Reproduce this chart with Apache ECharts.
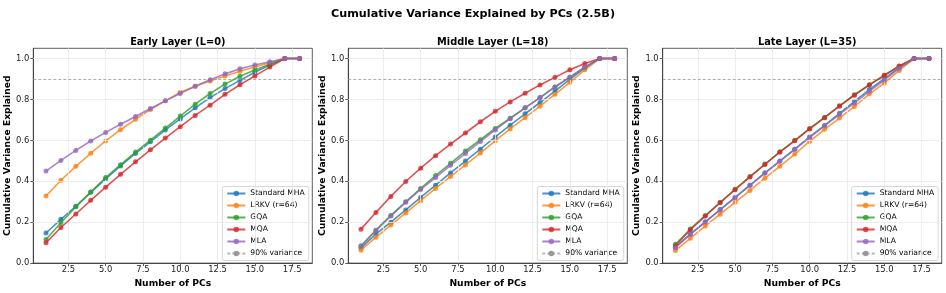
<!DOCTYPE html>
<html>
<head>
<meta charset="utf-8">
<script src="https://cdn.jsdelivr.net/npm/echarts@6/dist/echarts.min.js"></script>
<style>
html,body{margin:0;padding:0;background:#fff;}
#chart{width:946px;height:293px;}
</style>
</head>
<body>
<div id="chart"></div>
<script>
const pcs = [1,2,3,4,5,6,7,8,9,10,11,12,13,14,15,16,17,18];
const methods = ['Standard MHA','LRKV (r=64)','GQA','MQA','MLA'];
const panelTitles = ['Early Layer (L=0)','Middle Layer (L=18)','Late Layer (L=35)'];
const xTicks = [2.5,5,7.5,10,12.5,15,17.5];
const yTicks = [0,0.2,0.4,0.6,0.8,1.0];
const threshold = 0.9;

// Early layer
const earlyMHA  = [0.147,0.214,0.278,0.346,0.412,0.475,0.536,0.593,0.651,0.705,0.759,0.809,0.853,0.893,0.933,0.968,1.0,1.0];
const earlyLRKV = [0.328,0.405,0.473,0.537,0.597,0.652,0.703,0.751,0.793,0.835,0.864,0.890,0.915,0.938,0.959,0.979,1.0,1.0];
const earlyGQA  = [0.115,0.197,0.275,0.347,0.418,0.481,0.543,0.601,0.660,0.719,0.777,0.829,0.875,0.913,0.944,0.972,1.0,1.0];
const earlyMQA  = [0.099,0.174,0.240,0.307,0.371,0.434,0.495,0.554,0.611,0.667,0.722,0.772,0.825,0.872,0.915,0.958,1.0,1.0];
const earlyMLA  = [0.450,0.502,0.551,0.597,0.639,0.679,0.717,0.756,0.793,0.829,0.864,0.896,0.925,0.950,0.968,0.984,1.0,1.0];
// Middle layer
const midMHA  = [0.074,0.142,0.200,0.260,0.321,0.381,0.441,0.499,0.557,0.617,0.674,0.730,0.785,0.841,0.898,0.953,1.0,1.0];
const midLRKV = [0.063,0.126,0.186,0.245,0.305,0.365,0.423,0.480,0.538,0.598,0.656,0.711,0.767,0.825,0.884,0.945,1.0,1.0];
const midGQA  = [0.085,0.161,0.233,0.300,0.365,0.428,0.488,0.548,0.603,0.658,0.708,0.759,0.809,0.861,0.909,0.958,1.0,1.0];
const midMQA  = [0.166,0.247,0.326,0.399,0.464,0.525,0.582,0.636,0.691,0.742,0.788,0.830,0.871,0.908,0.945,0.976,1.0,1.0];
const midMLA  = [0.081,0.158,0.230,0.297,0.360,0.418,0.478,0.536,0.594,0.651,0.706,0.759,0.809,0.861,0.909,0.958,1.0,1.0];
// Late layer
const lateMHA  = [0.078,0.142,0.202,0.262,0.321,0.381,0.441,0.499,0.557,0.617,0.673,0.732,0.790,0.848,0.902,0.956,1.0,1.0];
const lateLRKV = [0.061,0.121,0.181,0.239,0.297,0.355,0.415,0.473,0.533,0.595,0.654,0.709,0.766,0.826,0.880,0.942,1.0,1.0];
const lateGQA  = [0.092,0.167,0.232,0.297,0.361,0.423,0.484,0.544,0.600,0.658,0.712,0.769,0.823,0.872,0.917,0.964,1.0,1.0];
const lateMQA  = [0.084,0.163,0.230,0.295,0.359,0.421,0.482,0.542,0.598,0.656,0.711,0.767,0.821,0.871,0.918,0.962,1.0,1.0];
const lateMLA  = [0.075,0.140,0.200,0.260,0.320,0.380,0.440,0.498,0.556,0.615,0.671,0.727,0.783,0.840,0.895,0.952,1.0,1.0];

const panels = [
  [earlyMHA, earlyLRKV, earlyGQA, earlyMQA, earlyMLA],
  [midMHA, midLRKV, midGQA, midMQA, midMLA],
  [lateMHA, lateLRKV, lateGQA, lateMQA, lateMLA]
];

const colors = ['#1f77b4','#ff7f0e','#2ca02c','#d62728','#9467bd'];
const FONT = 'DejaVu Sans';
const gridLefts = [33.3, 348.3, 662.7];
const gridTop = 48.3, gridW = 279, gridH = 216;

const option = {
  animation: false,
  backgroundColor: '#fff',
  textStyle: {fontFamily: FONT},
  title: [{
    text: 'Cumulative Variance Explained by PCs (2.5B)',
    left: 'center', top: 4,
    textStyle: {fontFamily: FONT, fontSize: 11.2, fontWeight: 'bold', color: '#000'}
  }].concat(panelTitles.map((t, i) => ({
    text: t,
    left: gridLefts[i] + gridW / 2, top: 32.5, textAlign: 'center',
    textStyle: {fontFamily: FONT, fontSize: 9.8, fontWeight: 'bold', color: '#000'}
  }))),
  grid: gridLefts.map(l => ({
    left: l, top: gridTop, width: gridW, height: gridH,
    show: true, borderColor: '#333', borderWidth: 0.8, backgroundColor: 'transparent'
  })),
  legend: gridLefts.map((l, i) => ({
    orient: 'vertical',
    left: l + gridW - 90, top: 186.5,
    data: methods.concat(['90% variance']),
    itemWidth: 18, itemHeight: 7, itemGap: 4,
    padding: [3, 4, 3, 4],
    backgroundColor: 'rgba(255,255,255,0.85)',
    borderColor: '#cccccc', borderWidth: 0.8, borderRadius: 2,
    textStyle: {fontFamily: FONT, fontSize: 7.6, color: '#000'},
    selectedMode: false
  })),
  xAxis: gridLefts.map((l, i) => ({
    type: 'value', gridIndex: i, min: 0.15, max: 18.85,
    name: 'Number of PCs', nameLocation: 'middle', nameGap: 14,
    nameTextStyle: {fontFamily: FONT, fontSize: 9.2, fontWeight: 'bold', color: '#000'},
    axisLine: {show: true, lineStyle: {color: '#333', width: 0.8}},
    axisTick: {show: true, length: 3, customValues: xTicks, lineStyle: {color: '#333', width: 0.8}},
    axisLabel: {customValues: xTicks, fontFamily: FONT, fontSize: 8.4, color: '#222', margin: 3,
      formatter: v => Number(v).toFixed(1)},
    splitLine: {show: false}
  })),
  yAxis: gridLefts.map((l, i) => ({
    type: 'value', gridIndex: i, min: 0, max: 1.05,
    name: 'Cumulative Variance Explained', nameLocation: 'middle', nameGap: 18.5,
    nameTextStyle: {fontFamily: FONT, fontSize: 9.2, fontWeight: 'bold', color: '#000'},
    axisLine: {show: true, lineStyle: {color: '#333', width: 0.8}},
    axisTick: {show: true, length: 3, customValues: yTicks, lineStyle: {color: '#333', width: 0.8}},
    axisLabel: {customValues: yTicks, fontFamily: FONT, fontSize: 8.4, color: '#222', margin: 4,
      formatter: v => Number(v).toFixed(1)},
    splitLine: {show: false}
  })),
  series: []
};

panels.forEach((sets, p) => {
  // light grid lines at the tick values
  option.series.push({
    type: 'line', name: 'grid' + p, xAxisIndex: p, yAxisIndex: p, data: [],
    silent: true, z: 1,
    markLine: {
      silent: true, symbol: 'none', label: {show: false}, animation: false,
      lineStyle: {color: '#e8e8e8', width: 0.8, type: 'solid'},
      data: xTicks.map(v => ({xAxis: v})).concat(yTicks.filter(v => v > 0).map(v => ({yAxis: v})))
    }
  });
  sets.forEach((vals, k) => {
    option.series.push({
      type: 'line', name: methods[k], xAxisIndex: p, yAxisIndex: p,
      data: pcs.map((x, j) => [x, vals[j]]),
      symbol: 'circle', symbolSize: 5,
      lineStyle: {color: colors[k], width: 1.6, opacity: 0.8},
      itemStyle: {color: colors[k], opacity: 0.8},
      z: 3 + k
    });
  });
  option.series.push({
    type: 'line', name: '90% variance', xAxisIndex: p, yAxisIndex: p,
    data: [], symbol: 'none',
    lineStyle: {color: '#999', width: 1, type: [3, 2], opacity: 0.7},
    itemStyle: {color: '#999'},
    markLine: {
      silent: true, symbol: 'none', label: {show: false},
      lineStyle: {color: '#999', width: 1, type: [3, 2], opacity: 0.8},
      data: [{yAxis: threshold}]
    },
    z: 2
  });
});

const chart = echarts.init(document.getElementById('chart'), null, {renderer: 'canvas'});
chart.setOption(option);
</script>
</body>
</html>
